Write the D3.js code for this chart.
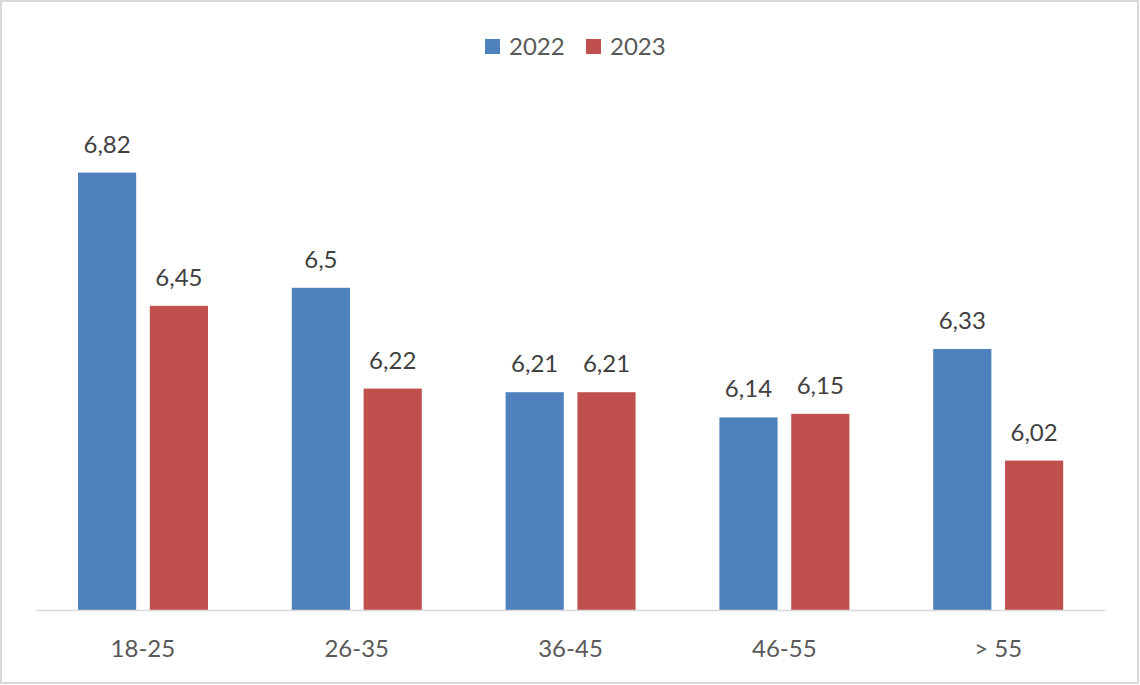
<!DOCTYPE html>
<html>
<head>
<meta charset="utf-8">
<script src="https://cdn.jsdelivr.net/npm/d3@7"></script>
<style>
  html, body { margin: 0; padding: 0; background: #fff; }
  svg { display: block; font-family: Lato, "Open Sans", sans-serif; }
</style>
</head>
<body>
<svg id="chart" width="1140" height="685"></svg>
<script>
// Data
const categories = [ '18-25', '26-35', '36-45', '46-55', '> 55' ];
const years      = [ '2022', '2023' ];
const values2022 = [ 6.82, 6.5, 6.21, 6.14, 6.33 ];
const values2023 = [ 6.45, 6.22, 6.21, 6.15, 6.02 ];
const colors     = [ '#4F81BD', '#C0504D' ];

const svg = d3.select( '#chart' );

// Outer frame
svg.append( 'rect' )
  .attr( 'x', 1 ).attr( 'y', 1 )
  .attr( 'width', 1137 ).attr( 'height', 682 )
  .attr( 'fill', '#fff' )
  .attr( 'stroke', '#d9d9d9' ).attr( 'stroke-width', 2 );

// Plot area
const plot = { left: 36, right: 1105, top: 106, bottom: 610 };

const x0 = d3.scaleBand( )
  .domain( categories )
  .range( [ plot.left, plot.right ] )
  .paddingInner( 0 ).paddingOuter( 0 );

const x1 = d3.scaleBand( )
  .domain( years )
  .range( [ 42, 172 ] )
  .paddingInner( 0.19 );

const y = d3.scaleLinear( )
  .domain( [ 5.605, 7.005 ] )
  .range( [ plot.bottom, plot.top ] );

const rows = categories.map( ( c, i ) => ( { cat: c, vals: [ values2022[i], values2023[i] ] } ) );

const groups = svg.selectAll( 'g.group' )
  .data( rows )
  .enter( ).append( 'g' )
  .attr( 'class', 'group' )
  .attr( 'transform', d => `translate(${x0( d.cat )},0)` );

const fmt = v => String( v ).replace( '.', ',' );

groups.selectAll( 'rect' )
  .data( d => d.vals.map( ( v, j ) => ( { year: years[j], v, j } ) ) )
  .enter( ).append( 'rect' )
  .attr( 'x', d => x1( d.year ) )
  .attr( 'y', d => y( d.v ) )
  .attr( 'width', x1.bandwidth( ) )
  .attr( 'height', d => y.range( )[0] - y( d.v ) )
  .attr( 'fill', d => colors[d.j] );

groups.selectAll( 'text.val' )
  .data( d => d.vals.map( ( v, j ) => ( { year: years[j], v, j } ) ) )
  .enter( ).append( 'text' )
  .attr( 'class', 'val' )
  .attr( 'x', d => x1( d.year ) + x1.bandwidth( ) / 2 )
  .attr( 'y', d => y( d.v ) - 20 )
  .attr( 'text-anchor', 'middle' )
  .attr( 'font-size', 24 )
  .attr( 'fill', '#404040' )
  .text( d => fmt( d.v ) );

// Category axis
const xAxis = svg.append( 'g' )
  .attr( 'transform', `translate(0,${plot.bottom})` )
  .call( d3.axisBottom( x0 ).tickSize( 0 ).tickPadding( 30 ) );
xAxis.select( '.domain' ).attr( 'stroke', '#d9d9d9' ).attr( 'stroke-width', 1.5 );
xAxis.selectAll( 'text' )
  .attr( 'font-size', 24 )
  .attr( 'font-family', 'Lato, "Open Sans", sans-serif' )
  .attr( 'fill', '#595959' )
  .attr( 'dy', '0.71em' );

// Legend
const legend = svg.append( 'g' ).attr( 'transform', 'translate(485,39)' );
const legendX = [ 0, 101 ];
years.forEach( ( yr, i ) => {
  const g = legend.append( 'g' ).attr( 'transform', `translate(${legendX[i]},0)` );
  g.append( 'rect' ).attr( 'width', 15 ).attr( 'height', 15 ).attr( 'fill', colors[i] );
  g.append( 'text' )
    .attr( 'x', 24 ).attr( 'y', 16 )
    .attr( 'font-size', 24 )
    .attr( 'fill', '#595959' )
    .text( yr );
} );
</script>
</body>
</html>
